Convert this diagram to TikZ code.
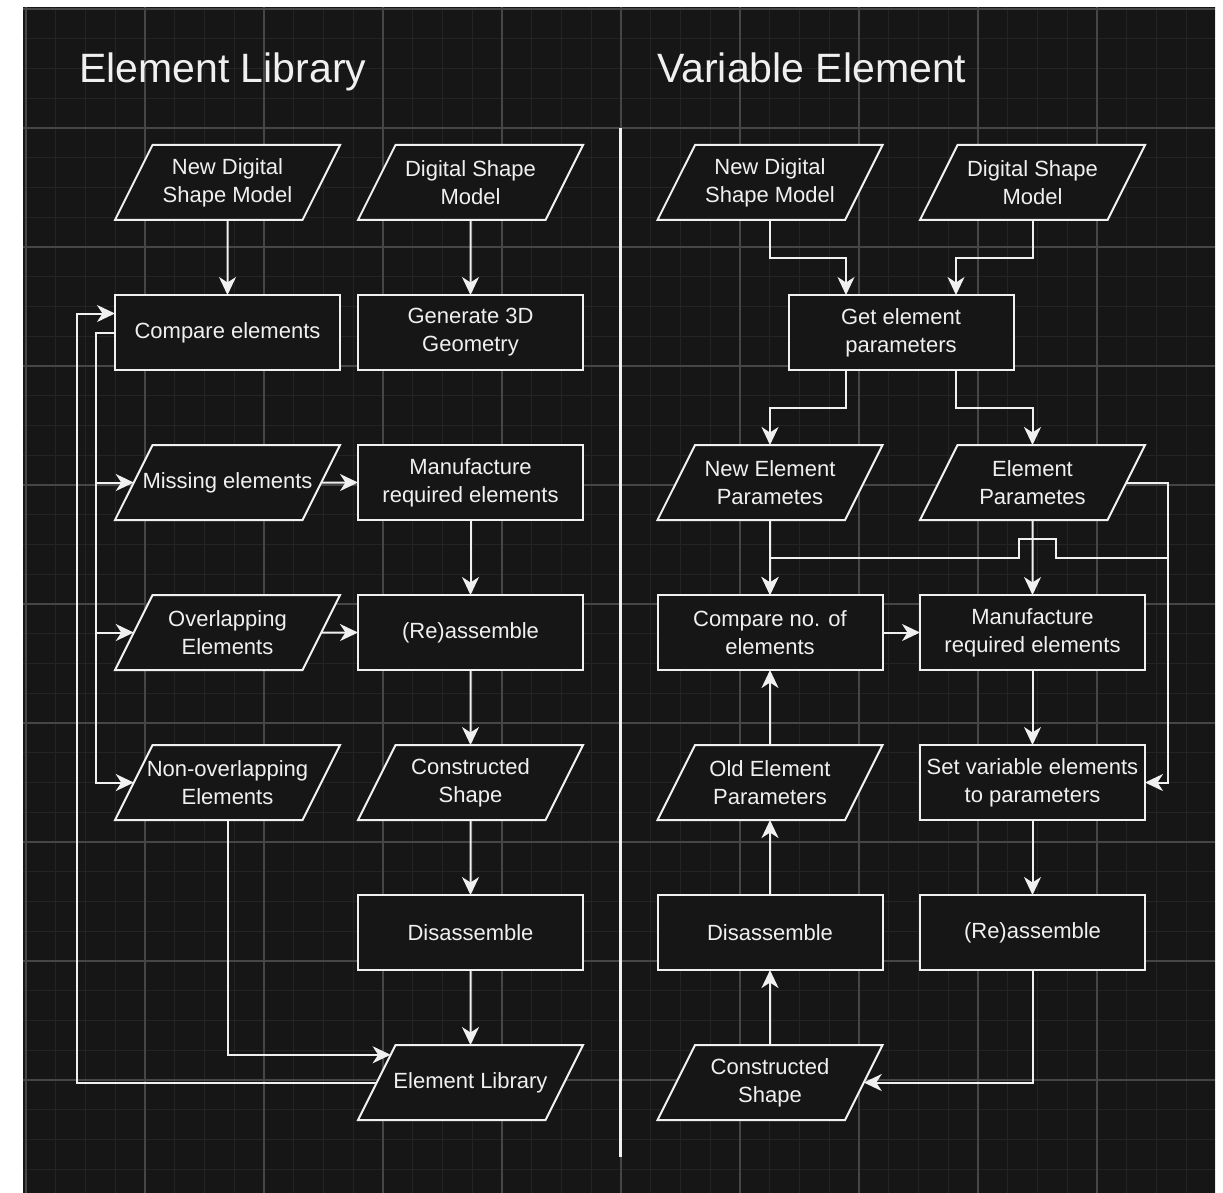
\documentclass[tikz,border=0pt]{standalone}
\usepackage{fontspec}
\setmainfont{Liberation Sans}
\usepackage{tikz}
\usetikzlibrary{arrows.meta}
\usetikzlibrary{positioning}
\usetikzlibrary{shapes.geometric}
\usetikzlibrary{calc}

\definecolor{canvas}{RGB}{22,22,22}
\definecolor{gridminor}{RGB}{36,36,36}
\definecolor{gridmajor}{RGB}{70,70,70}
\definecolor{ink}{RGB}{240,240,240}

\begin{document}
\begin{tikzpicture}[x=1pt, y=-1pt]

\tikzstyle{box}=[draw=ink, line width=2pt, fill=canvas, text=ink, inner sep=0pt, outer sep=0pt, font=\fontsize{22}{28}\selectfont]
\tikzstyle{process}=[box, rectangle, minimum width=225pt, minimum height=75pt, align=center]
\tikzstyle{data}=[box, trapezium, trapezium left angle=63.43, trapezium right angle=116.57,
  execute at begin node={\begin{minipage}[c][75pt][c]{150pt}\centering},
  execute at end node={\end{minipage}}]
\tikzstyle{line}=[draw=ink, line width=2pt, -{Stealth[length=18pt, width=17pt, inset=5.5pt]}]
\tikzstyle{title}=[text=ink, inner sep=0pt, anchor=base west, font=\fontsize{41}{49}\selectfont]

% page and grid
\useasboundingbox (0,0) rectangle (1223,1193);
\fill[white] (0,0) rectangle (1223,1193);
\fill[canvas] (23,7) rectangle (1215,1193);
\begin{scope}
\clip (23,7) rectangle (1215,1193);
\foreach \i in {0,...,40} {
  \draw[gridminor, line width=1pt] (26+29.75*\i,7) -- (26+29.75*\i,1193);
  \draw[gridminor, line width=1pt] (23,9+29.75*\i) -- (1215,9+29.75*\i);
}
\foreach \i in {0,...,10} {
  \draw[gridmajor, line width=1.2pt] (26+119*\i,7) -- (26+119*\i,1193);
  \draw[gridmajor, line width=1.2pt] (23,9+119*\i) -- (1215,9+119*\i);
}
\end{scope}

\draw[ink, line width=3pt] (620,128) -- (620,1157);

\node[title] (libtitle) at (79,83) {Element Library};
\node[title] (vartitle) at (657,83) {Variable Element};

% element library
\node[data] (newmodel) at (227.5,182.5) {New Digital\\Shape Model};
\node[process, below=75pt of newmodel] (compare) {Compare elements};
\node[data, below=75pt of compare] (missing) {\makebox[150pt]{Missing elements}};
\node[data, below=75pt of missing] (overlap) {Overlapping\\Elements};
\node[data, below=75pt of overlap] (nonoverlap) {\makebox[150pt]{Non-overlapping}\\Elements};

\node[data] (model) at (470.5,182.5) {Digital Shape\\Model};
\node[process, below=75pt of model] (geometry) {Generate 3D\\Geometry};
\node[process, below=75pt of geometry] (manufacture) {Manufacture\\required elements};
\node[process, below=75pt of manufacture] (assemble) {(Re)assemble};
\node[data, below=75pt of assemble] (shape) {Constructed\\Shape};
\node[process, below=75pt of shape] (disassemble) {Disassemble};
\node[data, below=75pt of disassemble] (library) {\makebox[150pt]{Element Library}};
\coordinate (libin) at ($(library.top left corner)!0.13!(library.bottom left corner)$);

\path[line] (newmodel) -- (compare);
\path[line] (model) -- (geometry);
\path[line] (missing) -- (manufacture);
\path[line] (overlap) -- (assemble);
\path[line] (manufacture) -- (assemble);
\path[line] (assemble) -- (shape);
\path[line] (shape) -- (disassemble);
\path[line] (disassemble) -- (library);
\path[line] (nonoverlap) |- (libin);

\path[line] (compare.west) -- ++(-19,0) |- (missing.west);
\path[line] (compare.west) -- ++(-19,0) |- (overlap.west);
\path[line] (compare.west) -- ++(-19,0) |- (nonoverlap.west);
\path[line] (library.west) -| ([xshift=-38pt, yshift=19pt]compare.west) -- ([yshift=19pt]compare.west);

% variable element
\node[data] (varnewmodel) at (770,182.5) {New Digital\\Shape Model};
\node[data] (varmodel) at (1032.5,182.5) {Digital Shape\\Model};
\node[process] (getparams) at (901,332.5) {Get element\\parameters};
\node[data] (newparams) at (770,482.5) {New Element\\Parametes};
\node[data] (params) at (1032.5,482.5) {Element\\Parametes};
\node[process, below=75pt of newparams] (countcompare) {Compare no. of\\elements};
\node[process, below=75pt of params] (varmanufacture) {Manufacture\\required elements};
\node[data, below=75pt of countcompare] (oldparams) {Old Element\\Parameters};
\node[process, below=75pt of varmanufacture] (setparams) {Set variable elements\\to parameters};
\node[process, below=75pt of oldparams] (vardisassemble) {Disassemble};
\node[process, below=75pt of setparams] (varassemble) {(Re)assemble};
\node[data, below=75pt of vardisassemble] (varshape) {Constructed\\Shape};

\path[line] (varnewmodel.south) -- ++(0,38) -| ([xshift=-55pt]getparams.north);
\path[line] (varmodel.south) -- ++(0,38) -| ([xshift=55pt]getparams.north);
\path[line] ([xshift=-55pt]getparams.south) -- ++(0,38) -| (newparams.north);
\path[line] ([xshift=55pt]getparams.south) -- ++(0,38) -| (params.north);

\path[line] (newparams) -- (countcompare);
\path[line] (params.east) -- ++(42,0) |- ([xshift=23pt, yshift=37.5pt]varmanufacture.north) -- ++(0,-19) -- ++(-37,0) -- ++(0,19) -| (countcompare.north);
\path[line] (params.east) -- ++(42,0) |- (setparams.east);
\path[line] (params) -- (varmanufacture);

\path[line] (countcompare) -- (varmanufacture);
\path[line] (varmanufacture) -- (setparams);
\path[line] (setparams) -- (varassemble);
\path[line] (varassemble) |- (varshape);
\path[line] (varshape) -- (vardisassemble);
\path[line] (vardisassemble) -- (oldparams);
\path[line] (oldparams) -- (countcompare);

\end{tikzpicture}
\end{document}
